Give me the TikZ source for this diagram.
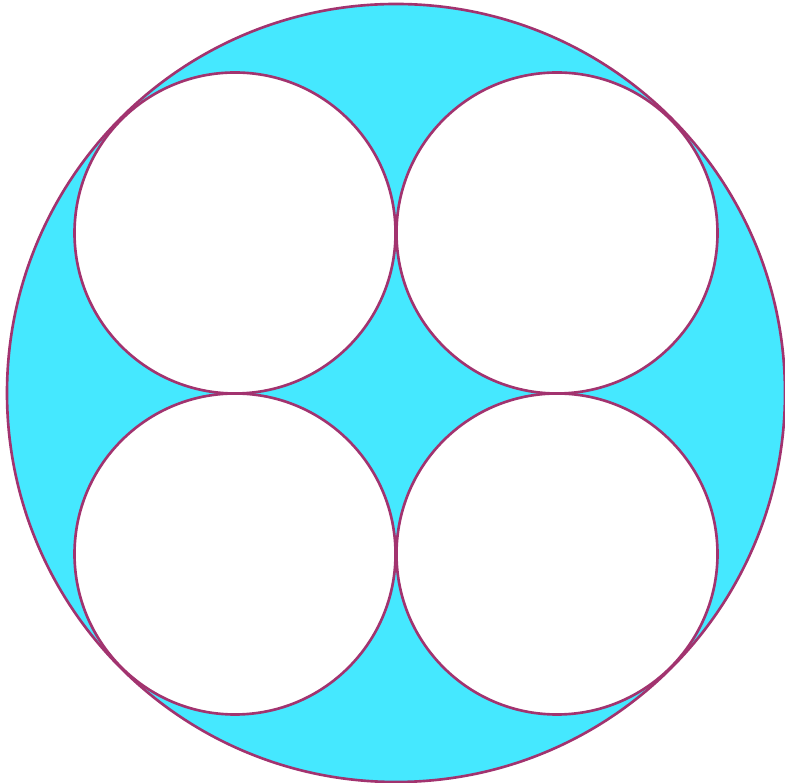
\documentclass[tikz,border=0pt]{standalone}
\usepackage{tikz}
\usepackage{xcolor}
\definecolor{discfill}{HTML}{45E8FF}
\definecolor{rimline}{HTML}{A2336F}

\begin{document}
\begin{tikzpicture}[
    x=0.01cm, y=-0.01cm,
    rim/.style={draw=rimline, line width=0.75pt},
]
\useasboundingbox (0,0) rectangle (785,783);

% outer disc
\filldraw[rim, fill=discfill] (396,393) circle (389);

% four inner circles
\foreach \cx/\cy in {235/233, 557/233, 235/554, 557/554} {
    \filldraw[rim, fill=white] (\cx,\cy) circle (160.5);
}

\end{tikzpicture}
\end{document}
